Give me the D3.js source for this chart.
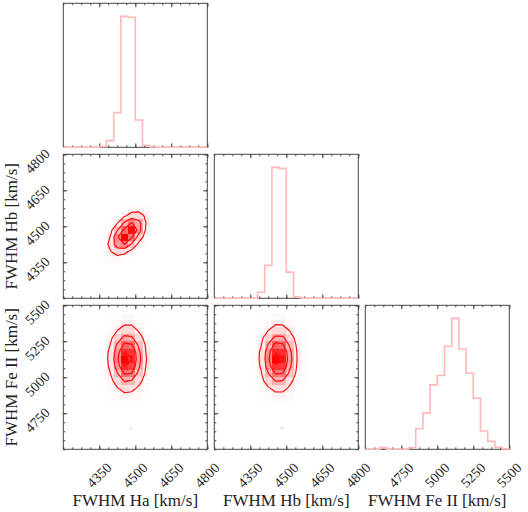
<!DOCTYPE html>
<html>
<head>
<meta charset="utf-8">
<script src="https://cdn.jsdelivr.net/npm/d3@7"></script>
<style>
  body { margin: 0; background: #fff; }
</style>
</head>
<body>
<script>
// parameters of the corner plot
const names = ["FWHM Ha [km/s]", "FWHM Hb [km/s]", "FWHM Fe II [km/s]"];
const ranges = [[4200, 4800], [4200, 4800], [4500, 5500]];
const majorTicks = [[4350, 4500, 4650, 4800], [4350, 4500, 4650, 4800], [4750, 5000, 5250, 5500]];
const minorStep = [37.5, 37.5, 62.5];
const binWidth = [30, 30, 50];

// 1d histograms, 20 bins each starting at the range minimum
const haHist = [0, 0, 0, 0, 0, 2, 20, 104, 393, 390, 82, 6, 1, 0, 0, 0, 0, 0, 0, 0];
const hbHist = [0, 0, 0, 0, 0, 0, 18, 98, 390, 387, 78, 4, 0, 0, 0, 0, 0, 0, 0, 0];
const feHist = [0, 0, 5, 0, 0, 0, 5, 62, 109, 194, 222, 310, 394, 302, 229, 154, 55, 24, 6, 1];

// 2d densities (read off the pink cells), rows go up in y, cols go up in x
// Ha (cols from 4350) vs Hb (rows from 4350)
const haHbGrid = [
  [1, 4, 6, 3, 1, 0, 0, 0],
  [3, 12, 23, 19, 8, 1, 0, 0],
  [3, 18, 48, 58, 32, 8, 1, 0],
  [2, 14, 54, 100, 62, 26, 4, 0],
  [1, 6, 33, 64, 95, 45, 10, 1],
  [0, 1, 11, 38, 59, 42, 13, 2],
  [0, 0, 2, 10, 21, 21, 10, 2],
  [0, 0, 0, 1, 4, 6, 4, 1]
];
// Ha (cols from 4350) vs Fe II (rows from 4800)
const haFeGrid = [
  [0, 1, 2, 3, 3, 2, 0, 0],
  [0, 2, 5, 9, 8, 4, 1, 0],
  [1, 4, 12, 20, 18, 10, 3, 0],
  [1, 7, 22, 40, 36, 19, 5, 1],
  [2, 12, 36, 63, 60, 30, 9, 1],
  [3, 16, 49, 86, 80, 41, 12, 2],
  [3, 18, 57, 100, 88, 46, 14, 2],
  [3, 17, 52, 86, 84, 43, 12, 2],
  [2, 13, 41, 67, 64, 33, 10, 2],
  [1, 8, 25, 44, 41, 21, 6, 1],
  [1, 4, 13, 23, 22, 11, 3, 1],
  [0, 2, 6, 10, 10, 5, 1, 0],
  [0, 1, 2, 4, 4, 2, 1, 0]
];
// Hb (cols from 4350) vs Fe II (rows from 4800)
const hbFeGrid = [
  [0, 1, 2, 3, 3, 1, 0, 0],
  [0, 2, 5, 8, 8, 4, 1, 0],
  [1, 4, 11, 19, 19, 10, 2, 0],
  [1, 7, 23, 39, 37, 18, 5, 1],
  [2, 11, 37, 62, 61, 31, 8, 1],
  [3, 15, 50, 84, 82, 42, 11, 2],
  [3, 17, 56, 100, 91, 47, 13, 2],
  [3, 16, 53, 88, 85, 44, 12, 2],
  [2, 12, 40, 69, 65, 34, 9, 1],
  [1, 8, 26, 43, 42, 22, 6, 1],
  [1, 4, 13, 22, 23, 12, 3, 1],
  [0, 2, 6, 11, 10, 5, 1, 0],
  [0, 1, 2, 4, 4, 2, 0, 0]
];

// stray samples outside the contours
const haHbPoints = [[4389, 4394], [4380, 4408], [4548, 4552]];
const haFePoints = [[4480, 5419], [4483, 4644], [4514, 4817], [4386, 5245], [4430, 5361], [4420, 4861], [4403, 4910]];
const hbFePoints = [[4467, 5419], [4481, 4644], [4512, 4817], [4383, 5245], [4432, 5361], [4411, 4861], [4400, 4910]];

// enclosed mass for the 0.5, 1, 1.5 and 2 sigma contours
const sigmaMass = [0.1175, 0.3935, 0.6753, 0.8647];

const size = 144, step = 151, left0 = 63.3, top0 = 3.3;
const frameColor = "#444";
const histColor = "#ffb8b8";
const fontFamily = '"Liberation Serif", serif';

const svg = d3.select("body").append("svg")
  .attr("width", 528)
  .attr("height", 512);

function scales(row, col) {
  const x = d3.scaleLinear().domain(ranges[col]).range([left0 + col * step, left0 + col * step + size]);
  const y = d3.scaleLinear().domain(ranges[row]).range([top0 + row * step + size, top0 + row * step]);
  return { x, y };
}

function minorTicks(k) {
  return d3.range(ranges[k][0], ranges[k][1] + 1e-6, minorStep[k]);
}

function drawFrame(g, x, y, xk, yk, sides) {
  const [x0, x1] = x.range();
  const [y1, y0] = y.range();
  g.append("rect")
    .attr("x", x0).attr("y", y0)
    .attr("width", x1 - x0).attr("height", y1 - y0)
    .attr("fill", "none")
    .attr("stroke", frameColor)
    .attr("stroke-width", 1);

  const axes = [];
  if (sides.includes("b")) axes.push([d3.axisBottom(x), `translate(0,${y1})`, xk]);
  if (sides.includes("t")) axes.push([d3.axisTop(x), `translate(0,${y0})`, xk]);
  if (sides.includes("l")) axes.push([d3.axisLeft(y), `translate(${x0},0)`, yk]);
  if (sides.includes("r")) axes.push([d3.axisRight(y), `translate(${x1},0)`, yk]);

  axes.forEach(([axis, tr, k]) => {
    [[minorTicks(k), -2], [majorTicks[k], -4]].forEach(([vals, len]) => {
      const a = g.append("g")
        .attr("transform", tr)
        .call(axis.tickValues(vals).tickSize(len).tickSizeOuter(0).tickFormat(""));
      a.select(".domain").remove();
      a.selectAll("line").attr("stroke", frameColor);
    });
  });
}

function label(sel) {
  return sel
    .style("font-family", fontFamily)
    .attr("fill", "#222")
    .attr("text-anchor", "middle")
    .attr("dominant-baseline", "central");
}

function xLabels(col) {
  const { x, y } = scales(2, col);
  const yc = y.range()[0] + 26;
  svg.append("g").selectAll("text")
    .data(majorTicks[col])
    .enter()
    .append("text")
    .call(label)
    .attr("x", d => x(d))
    .attr("y", yc)
    .attr("font-size", "14px")
    .attr("transform", d => `rotate(-45,${x(d)},${yc})`)
    .text(d => d);

  svg.append("text")
    .call(label)
    .attr("x", (x.range()[0] + x.range()[1]) / 2)
    .attr("y", 500)
    .attr("font-size", "17px")
    .text(names[col]);
}

function yLabels(row) {
  const { y } = scales(row, 0);
  const xc = 37.5;
  svg.append("g").selectAll("text")
    .data(majorTicks[row])
    .enter()
    .append("text")
    .call(label)
    .attr("x", xc)
    .attr("y", d => y(d) + 7)
    .attr("font-size", "14px")
    .attr("transform", d => `rotate(-45,${xc},${y(d) + 7})`)
    .text(d => d);

  const yc = (y.range()[0] + y.range()[1]) / 2;
  svg.append("text")
    .call(label)
    .attr("x", 12)
    .attr("y", yc)
    .attr("font-size", "17px")
    .attr("transform", `rotate(-90,12,${yc})`)
    .text(names[row]);
}

function drawHist(k, hist) {
  const { x } = scales(k, k);
  const yTop = top0 + k * step, yBot = yTop + size;
  const y = d3.scaleLinear().domain([0, 1.1 * d3.max(hist)]).range([yBot, yTop]);
  const g = svg.append("g");
  drawFrame(g, x, y, k, k, "bt");

  const lo = ranges[k][0], bw = binWidth[k], n = hist.length;
  const pts = [[lo, 0]].concat(hist.map((c, i) => [lo + i * bw, c]), [[lo + n * bw, hist[n - 1]], [lo + n * bw, 0]]);
  g.append("path")
    .datum(pts)
    .attr("fill", "none")
    .attr("stroke", histColor)
    .attr("stroke-width", 1.6)
    .attr("d", d3.line().x(d => x(d[0])).y(d => y(d[1])).curve(d3.curveStepAfter));
}

function cornerLevels(grid) {
  const flat = grid.flat().sort((a, b) => b - a);
  const total = d3.sum(flat);
  const cum = Array.from(d3.cumsum(flat), v => v / total);
  return sigmaMass.map(m => {
    let k = 0;
    while (k + 1 < flat.length && cum[k + 1] <= m) k++;
    return (flat[k] + flat[k + 1]) / 2;
  }).sort((a, b) => a - b);
}

function drawHist2d(row, col, grid, x0, y0, points) {
  const { x, y } = scales(row, col);
  const bw = binWidth[col], bh = binWidth[row];
  const ny = grid.length, nx = grid[0].length;
  const g = svg.append("g");

  // samples (mostly hidden below the base fill)
  g.selectAll("circle")
    .data(points)
    .enter()
    .append("circle")
    .attr("cx", d => x(d[0]))
    .attr("cy", d => y(d[1]))
    .attr("r", 1.3)
    .attr("fill", "red")
    .attr("fill-opacity", 0.18);

  // padded grid for the contour generator
  const pw = nx + 2, ph = ny + 2;
  const values = new Array(pw * ph).fill(0);
  grid.forEach((r, j) => r.forEach((v, i) => { values[(j + 1) * pw + i + 1] = v; }));
  const levels = cornerLevels(grid);
  const vmax = d3.max(values);

  const proj = d3.geoTransform({
    point(px, py) { this.stream.point(x(x0 + (px - 1) * bw), y(y0 + (py - 1) * bh)); }
  });
  const path = d3.geoPath(proj);
  const contours = d3.contours().size([pw, ph]).thresholds(levels)(values);

  // white base under the density
  g.append("path")
    .attr("d", path(contours[0]))
    .attr("fill", "#fff")
    .attr("fill-rule", "evenodd");

  // density cells: red fading to transparent white
  const cells = [];
  grid.forEach((r, j) => r.forEach((v, i) => { if (v > 0) cells.push({ i, j, v }); }));
  g.selectAll("rect.cell")
    .data(cells)
    .enter()
    .append("rect")
    .attr("class", "cell")
    .attr("x", d => x(x0 + d.i * bw))
    .attr("y", d => y(y0 + (d.j + 1) * bh))
    .attr("width", d => x(x0 + (d.i + 1) * bw) - x(x0 + d.i * bw))
    .attr("height", d => y(y0 + d.j * bh) - y(y0 + (d.j + 1) * bh))
    .attr("shape-rendering", "crispEdges")
    .attr("fill", d => {
      const f = d.v / vmax;
      const c = Math.round(255 * (1 - Math.pow(f, 1.25)));
      return `rgb(255,${c},${c})`;
    });

  g.selectAll("path.contour")
    .data(contours)
    .enter()
    .append("path")
    .attr("class", "contour")
    .attr("d", d => path(d))
    .attr("fill", "none")
    .attr("stroke", "#f00")
    .attr("stroke-width", 1.1)
    .attr("stroke-linejoin", "round");

  drawFrame(g, x, y, col, row, "btlr");
}

drawHist(0, haHist);
drawHist(1, hbHist);
drawHist(2, feHist);

drawHist2d(1, 0, haHbGrid, 4350, 4350, haHbPoints);
drawHist2d(2, 0, haFeGrid, 4350, 4800, haFePoints);
drawHist2d(2, 1, hbFeGrid, 4350, 4800, hbFePoints);

xLabels(0);
xLabels(1);
xLabels(2);
yLabels(1);
yLabels(2);
</script>
</body>
</html>
